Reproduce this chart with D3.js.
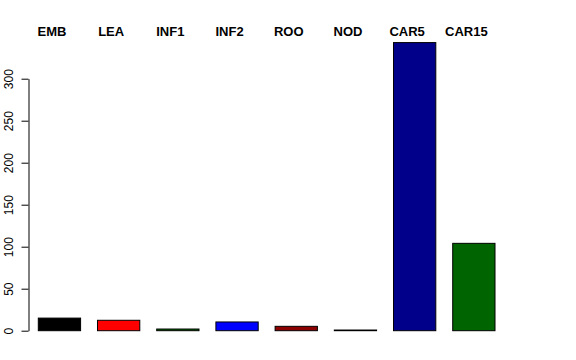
<!DOCTYPE html>
<html>
<head>
<meta charset="utf-8">
<script src="https://cdn.jsdelivr.net/npm/d3@7"></script>
<style>
  body { margin: 0; background: #fff; }
  svg { display: block; }
  text { font-family: "Liberation Sans", Arial, Helvetica, sans-serif; }
</style>
</head>
<body>
<script>
// tissue counts
const tissues = ["EMB", "LEA", "INF1", "INF2", "ROO", "NOD", "CAR5", "CAR15"];
const counts  = [15, 12.4, 2, 10.4, 5.2, 0.8, 343, 104];
const colours = ["#000000", "#ff0000", "#006400", "#0000ff", "#8b0000", "#8b008b", "#00008b", "#006400"];
const yTicks  = [0, 50, 100, 150, 200, 250, 300];

const width = 576, height = 360;

const svg = d3.select("body").append("svg")
    .attr("width", width)
    .attr("height", height);

// barplot with space = 0.4 (bar width 1, gap 0.4)
const x = d3.scaleBand()
    .domain(tissues)
    .range([38.3, 495])
    .paddingInner(0.4 / 1.4)
    .paddingOuter(0);

const y = d3.scaleLinear()
    .domain([0, 300])
    .range([330.7, 78.7]);

const data = tissues.map((t, i) => ({ name: t, value: counts[i], colour: colours[i] }));

svg.append("g")
  .selectAll("rect")
  .data(data)
  .join("rect")
    .attr("x", d => x(d.name))
    .attr("y", d => y(d.value))
    .attr("width", x.bandwidth())
    .attr("height", d => y(0) - y(d.value))
    .attr("fill", d => d.colour)
    .attr("stroke", "#000")
    .attr("stroke-width", 1);

// labels across the top
svg.append("g")
  .selectAll("text")
  .data(data)
  .join("text")
    .attr("x", d => x(d.name) + x.bandwidth() / 2 - 7.5)
    .attr("y", 35.7)
    .attr("text-anchor", "middle")
    .attr("font-weight", "bold")
    .attr("font-size", 13)
    .text(d => d.name);

// y axis, R style: rotated labels
const yAxis = svg.append("g")
    .attr("transform", "translate(28.5,0)")
    .call(d3.axisLeft(y).tickValues(yTicks).tickSize(7).tickSizeOuter(0).tickFormat(d3.format("d")));

yAxis.select(".domain").attr("stroke", "#000");
yAxis.selectAll(".tick line").attr("stroke", "#000");
yAxis.selectAll(".tick text")
    .attr("font-family", "Liberation Sans, Arial, sans-serif")
    .attr("font-size", 12)
    .attr("fill", "#000")
    .attr("text-anchor", "middle")
    .attr("x", null)
    .attr("dy", null)
    .attr("transform", "translate(-16,0) rotate(-90)");
</script>
</body>
</html>
